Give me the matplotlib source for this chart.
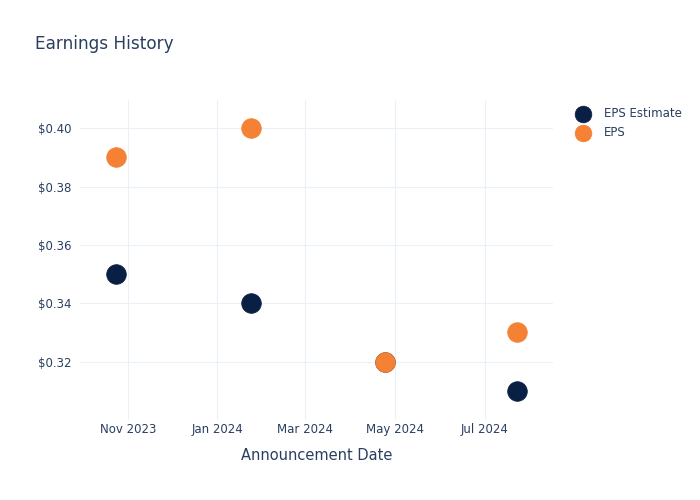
import numpy as np
import pandas as pd
import matplotlib
matplotlib.use("Agg")
import matplotlib.pyplot as plt
import matplotlib.dates as mdates
from matplotlib.ticker import FuncFormatter

# earnings announcements
dates = pd.to_datetime(["2023-10-24", "2024-01-24", "2024-04-24", "2024-07-23"])
eps_estimate = [0.35, 0.34, 0.32, 0.31]
eps_actual = [0.39, 0.40, 0.32, 0.33]

text_col = "#2a3f5f"
grid_col = "#ebf0f8"
navy = "#0a1f44"
orange = "#f58134"

plt.rcParams["font.family"] = ["DejaVu Sans"]

fig = plt.figure(figsize=(7, 5), dpi=100)
ax = fig.add_axes([80 / 700, 80 / 500, 473 / 700, 320 / 500])

ax.scatter(dates, eps_estimate, s=200, color=navy, label="EPS Estimate", zorder=3,
           edgecolors=navy, linewidths=0.5)
ax.scatter(dates, eps_actual, s=200, color=orange, label="EPS", zorder=4,
           edgecolors=orange, linewidths=0.5)

ax.set_xlim(pd.Timestamp("2023-09-29 12:00"), pd.Timestamp("2024-08-16 12:00"))
ax.set_ylim(0.3000, 0.4097)

ax.xaxis.set_major_locator(mdates.MonthLocator(bymonth=[1, 3, 5, 7, 9, 11]))
ax.xaxis.set_major_formatter(mdates.DateFormatter("%b %Y"))
ax.set_yticks([0.32, 0.34, 0.36, 0.38, 0.40])
ax.yaxis.set_major_formatter(FuncFormatter(lambda v, p: f"${v:.2f}"))

ax.grid(True, color=grid_col, linewidth=0.8)
ax.set_axisbelow(True)
for sp in ax.spines.values():
    sp.set_visible(False)
ax.tick_params(length=0, colors=text_col, labelsize=8.5)
ax.tick_params(axis="y", pad=6)
ax.tick_params(axis="x", pad=2)

ax.set_xlabel("Announcement Date", color=text_col, fontsize=10.5, labelpad=9)
fig.text(35 / 700, 1 - 44 / 500, "Earnings History", color=text_col, fontsize=12.2,
         va="center", ha="left")

leg = fig.legend(loc="upper left", bbox_to_anchor=(566 / 700, 1 - 102 / 500),
                 frameon=False, fontsize=8.5, labelcolor=text_col,
                 handletextpad=0.8, borderaxespad=0, labelspacing=0.55,
                 markerscale=0.85)

fig.savefig("out.png", dpi=100)
